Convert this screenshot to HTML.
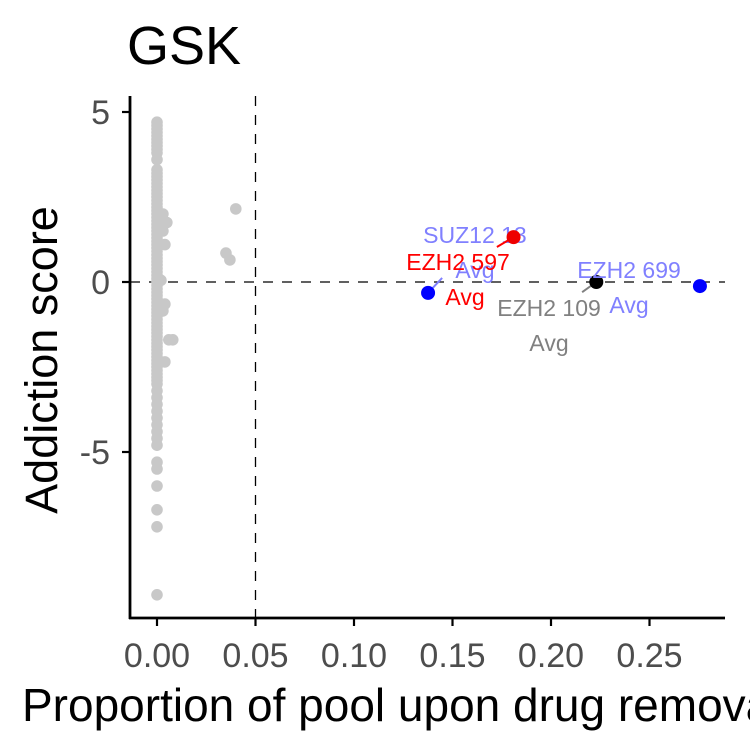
<!DOCTYPE html>
<html><head><meta charset="utf-8"><style>
html,body{margin:0;padding:0;background:#fff;overflow:hidden}
svg{display:block;font-family:"Liberation Sans",Arial,sans-serif}
</style></head><body>
<svg id="chart" width="750" height="750" viewBox="0 0 750 750" xmlns="http://www.w3.org/2000/svg">
<text x="127" y="64" font-size="54">GSK</text>
<text transform="translate(57,360) rotate(-90)" text-anchor="middle" font-size="45">Addiction score</text>
<text x="22" y="721" font-size="46">Proportion of pool upon drug removal</text>
<g id="plot"></g>
</svg>
<script>
const xTicks=[0,0.05,0.1,0.15,0.2,0.25];
const xTickLabels=["0.00","0.05","0.10","0.15","0.20","0.25"];
const yTicks=[5,0,-5];
const yTickLabels=["5","0","-5"];
const grayY=[4.7,4.6,4.5,4.4,4.3,4.2,4.1,4.0,3.9,3.8,3.6,3.3,3.2,3.1,3.0,2.9,2.8,2.7,2.6,2.5,2.4,2.3,2.2,2.1,2.0,1.9,1.8,1.7,1.6,1.5,1.4,1.3,1.2,1.1,1.0,0.9,0.8,0.7,0.6,0.5,0.4,0.3,0.2,0.1,0.0,-0.1,-0.2,-0.3,-0.4,-0.5,-0.6,-0.7,-0.8,-0.9,-1.0,-1.1,-1.2,-1.3,-1.4,-1.5,-1.6,-1.7,-1.8,-1.9,-2.0,-2.1,-2.2,-2.3,-2.4,-2.5,-2.6,-2.7,-2.8,-2.9,-3.0,-3.2,-3.4,-3.6,-3.8,-4.0,-4.2,-4.4,-4.6,-4.8,-5.3,-5.5,-6.0,-6.7,-7.2,-9.2];
const grayX2=[0.04,0.035,0.037,0.003,0.005,0.004,0.003,0.006,0.008,0.004,0.003,0.002,0.004];
const grayY2=[2.15,0.85,0.65,2.0,1.75,1.1,1.5,-1.7,-1.7,-0.65,-0.85,0.05,-2.35];
const hlNames=["SUZ12 13","EZH2 597","EZH2 109","EZH2 699"];
const hlX=[0.1376,0.181,0.223,0.2756];
const hlY=[-0.32,1.32,0.0,-0.12];
const hlColors=["#0000ff","#ee0000","#000000","#0000ff"];
const lblColors=["#8080ff","#ff0000","#808080","#8080ff"];
const lblX=[0.1614,0.1528,0.199,0.2396];
const lblY=[1.15,0.35,-1.0,0.12];
const X=v=>157+v*1970, Y=v=>282-v*34;
const NS="http://www.w3.org/2000/svg", g=document.getElementById('plot');
function mk(t,a,p){const e=document.createElementNS(NS,t);for(const k in a)e.setAttribute(k,a[k]);(p||g).appendChild(e);return e;}
let e=mk('line',{x1:130,x2:725,y1:Y(0),y2:Y(0),stroke:'#000','stroke-dasharray':'10,9','stroke-width':1.3});

e=mk('line',{x1:X(0.05),x2:X(0.05),y1:96,y2:618,stroke:'#000','stroke-dasharray':'10,9','stroke-width':1.3});

grayY.forEach(v=>{const c=mk('circle',{cx:X(0),cy:Y(v),r:5.8,fill:'#c8c8c8'});
});
grayX2.forEach((v,i)=>{const c=mk('circle',{cx:X(v),cy:Y(grayY2[i]),r:5.8,fill:'#c8c8c8'});
});
hlX.forEach((v,i)=>{
 const px=X(v),py=Y(hlY[i]),lx=X(lblX[i]),ly=Y(lblY[i]);
 if(i<3){
 const s=mk('line',{x1:px,y1:py,x2:px+(lx-px)*0.3,y2:py+(ly-py)*0.3,stroke:lblColors[i],'stroke-width':2});
 }
 const c=mk('circle',{cx:px,cy:py,r:7,fill:hlColors[i]});
 
 const t=mk('text',{x:lx,y:ly,'text-anchor':'middle','font-size':23,fill:lblColors[i]});
 
 const a=mk('tspan',{x:lx,dy:0},t);a.textContent=hlNames[i];
 const b=mk('tspan',{x:lx+(i==1?7:0),dy:35},t);b.textContent='Avg';
});
e=mk('line',{x1:129,x2:725,y1:618,y2:618,stroke:'#000','stroke-width':2.8});

e=mk('line',{x1:130,x2:130,y1:96,y2:619,stroke:'#000','stroke-width':2.8});

xTicks.forEach((v,i)=>{
 const k=mk('line',{x1:X(v),x2:X(v),y1:618,y2:626,stroke:'#000','stroke-width':2.2});
 
 const t=mk('text',{x:X(v),y:667,'text-anchor':'middle','font-size':34,fill:'#4d4d4d'});
 t.textContent=xTickLabels[i];
});
yTicks.forEach((v,i)=>{
 const k=mk('line',{x1:122,x2:130,y1:Y(v),y2:Y(v),stroke:'#000','stroke-width':2.2});
 
 const t=mk('text',{x:110,y:Y(v)+12,'text-anchor':'end','font-size':34,fill:'#4d4d4d'});
 t.textContent=yTickLabels[i];
});
</script>
</body></html>
